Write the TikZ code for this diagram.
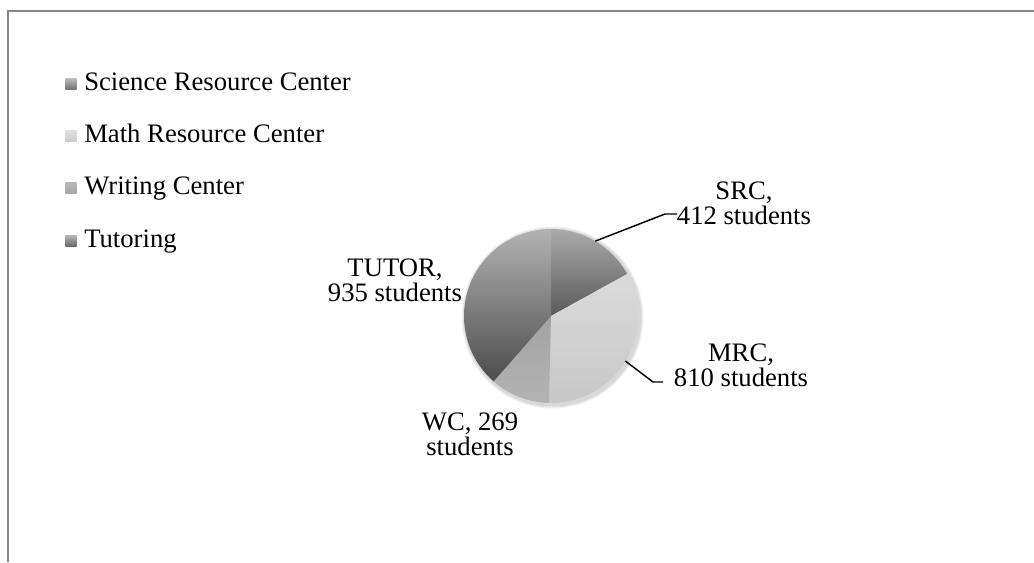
\documentclass[tikz,border=0pt]{standalone}
\usepackage{fontspec}
\setmainfont{Liberation Serif}
\usetikzlibrary{calc}
\definecolor{framegray}{HTML}{878787}
\begin{document}
\begin{tikzpicture}[x=0.75pt,y=0.75pt]

    \tikzstyle{slicelabel} = [align=center, font=\fontsize{20}{19}\selectfont, inner sep=0];
    \tikzstyle{legtext} = [anchor=west, font=\fontsize{20}{19}\selectfont, inner sep=0, text height=13pt, text depth=4pt];
    \tikzstyle{legbox} = [minimum width=8.5pt, minimum height=8pt, inner sep=0];
    \tikzstyle{leader} = [line width=1.1pt, black];

    \useasboundingbox (0,0) rectangle (1034,562);

    % Frame
    \draw[framegray, line width=1.5pt] (8,0) -- (8,550.5) -- (1034,550.5);

    % Legend
    \node[legbox, top color=gray!55, bottom color=gray!110] (LS) at (71,478) {};
    \node[legtext] (LSt) at (84,478) {Science Resource Center};
    \node[legbox, top color=gray!25, bottom color=gray!40] (LM) at (71,426) {};
    \node[legtext] (LMt) at (84,426) {Math Resource Center};
    \node[legbox, top color=gray!55, bottom color=gray!70] (LW) at (71,374) {};
    \node[legtext] (LWt) at (84,374) {Writing Center};
    \node[legbox, top color=gray!60, bottom color=gray!120] (LT) at (71,321) {};
    \node[legtext] (LTt) at (84,321) {Tutoring};

    % Pie
    \coordinate (C) at (551,246);
    \foreach \s/\o in {4/0.05, 3/0.05, 2/0.06} {
        \fill[black, opacity=\o] ($(C)+(1.5,-1.5)$) circle (87+\s);
    }
    \shade[top color=black!33, bottom color=black!65] (C) -- ++(90:87) arc (90:28.863:87) -- cycle;
    \shade[top color=black!14, bottom color=black!22] (C) -- ++(28.863:87) arc (28.863:-91.335:87) -- cycle;
    \shade[top color=black!36, bottom color=black!30] (C) -- ++(-91.335:87) arc (-91.335:-131.253:87) -- cycle;
    \shade[top color=black!30, bottom color=black!70] (C) -- ++(-131.253:87) arc (-131.253:-270:87) -- cycle;

    % Labels
    \node[slicelabel] (SRC) at (744,358.5) {SRC,\\412 students};
    \node[slicelabel] (MRC) at (741,197) {MRC,\\810 students};
    \node[slicelabel] (WC) at (470,128) {WC, 269\\students};
    \node[slicelabel] (TUT) at (395,282) {TUTOR,\\935 students};

    % Leaders
    \coordinate (SRCa) at ($(C)+(59.4:87)$);
    \coordinate (SRCk) at (665,348);
    \coordinate (SRCe) at (677,348);
    \draw[leader] (SRCa) -- (SRCk) -- (SRCe);
    \coordinate (MRCa) at ($(C)+(-31.2:87)$);
    \coordinate (MRCk) at (653,180);
    \coordinate (MRCe) at (663,180);
    \draw[leader] (MRCa) -- (MRCk) -- (MRCe);

\end{tikzpicture}
\end{document}
